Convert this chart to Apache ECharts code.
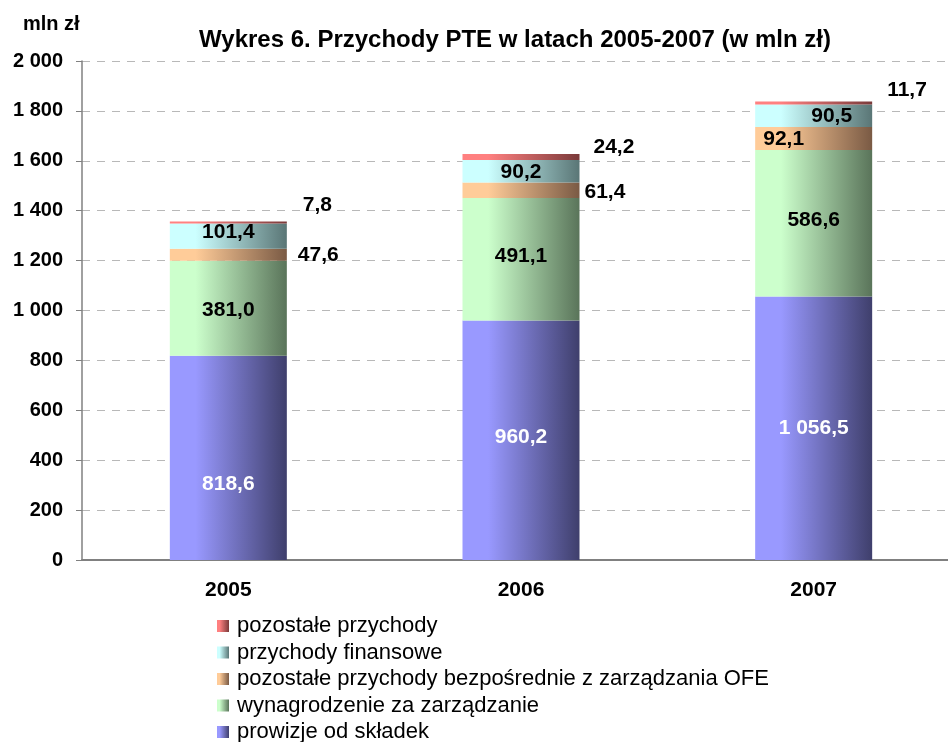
<!DOCTYPE html>
<html>
<head>
<meta charset="utf-8">
<script src="https://cdn.jsdelivr.net/npm/echarts@6/dist/echarts.min.js"></script>
<style>html,body{margin:0;padding:0;background:#fff}#c{width:948px;height:742px}</style>
</head>
<body>
<div id="c"></div>
<script>
const years = ['2005', '2006', '2007'];
const prowizje = [818.6, 960.2, 1056.5];
const wynagrodzenie = [381.0, 491.1, 586.6];
const bezposrednie = [47.6, 61.4, 92.1];
const finansowe = [101.4, 90.2, 90.5];
const pozostale = [7.8, 24.2, 11.7];
const seriesNames = ['prowizje od składek', 'wynagrodzenie za zarządzanie', 'pozostałe przychody bezpośrednie z zarządzania OFE', 'przychody finansowe', 'pozostałe przychody'];
const yTicks = [0, 200, 400, 600, 800, 1000, 1200, 1400, 1600, 1800, 2000];

const FONT = '"Liberation Sans", Arial, sans-serif';
function fmt(v) {
  const parts = v.toFixed(1).split('.');
  const intPart = parts[0].replace(/\B(?=(\d{3})+(?!\d))/g, ' ');
  return intPart + ',' + parts[1];
}
function grad(light, dark) {
  return new echarts.graphic.LinearGradient(0, 0, 1, 0, [
    { offset: 0, color: light }, { offset: 0.22, color: light }, { offset: 1, color: dark }
  ]);
}
const colors = [
  grad('#9999ff', '#3f3f6c'),
  grad('#ccffcc', '#5a745a'),
  grad('#ffcc99', '#7a5a44'),
  grad('#ccffff', '#5a7676'),
  grad('#ff8080', '#7a3a3a')
];
// label placement per series / year
const labelCfg = [
  [{ p: 'inside', o: [0, 26], c: '#fff' }, { p: 'inside', o: [0, -3], c: '#fff' }, { p: 'inside', o: [0, 0], c: '#fff' }],
  [{ p: 'inside', o: [0, 2] }, { p: 'inside', o: [0, -3] }, { p: 'inside', o: [0, -3] }],
  [{ p: 'right', d: 11, o: [0, 0] }, { p: 'right', d: 5, o: [0, 2] }, { p: 'inside', o: [-30, 1] }],
  [{ p: 'inside', o: [0, -4] }, { p: 'inside', o: [0, 1] }, { p: 'inside', o: [18, 0] }],
  [{ p: 'right', d: 16, o: [0, -17] }, { p: 'right', d: 14, o: [0, -10] }, { p: 'right', d: 15, o: [0, -13] }]
];
const values = [prowizje, wynagrodzenie, bezposrednie, finansowe, pozostale];

const series = values.map((arr, si) => ({
  name: seriesNames[si],
  type: 'bar',
  stack: 'total',
  barWidth: 117,
  itemStyle: { color: colors[si] },
  data: arr.map((v, i) => {
    const c = labelCfg[si][i];
    return {
      value: v,
      label: {
        show: true,
        position: c.p,
        distance: c.d || 5,
        offset: c.o,
        color: c.c || '#000',
        fontFamily: FONT,
        fontWeight: 'bold',
        fontSize: 21,
        formatter: p => fmt(p.value)
      }
    };
  })
}));

const chart = echarts.init(document.getElementById('c'), null, { renderer: 'canvas' });
chart.setOption({
  animation: false,
  backgroundColor: '#fff',
  title: [
    { text: 'Wykres 6. Przychody PTE w latach 2005-2007 (w mln zł)', left: 510, textAlign: 'center', top: 23,
      textStyle: { fontFamily: FONT, fontWeight: 'bold', fontSize: 24, color: '#000' } },
    { text: 'mln zł', left: 18, top: 9,
      textStyle: { fontFamily: FONT, fontWeight: 'bold', fontSize: 20, color: '#000' } }
  ],
  legend: {
    orient: 'vertical', left: 217, top: 615, height: 140, padding: 0,
    itemWidth: 12, itemHeight: 12, itemGap: 4.5, icon: 'rect',
    data: seriesNames.slice().reverse(),
    textStyle: { fontFamily: FONT, fontSize: 22, color: '#000', padding: [0, 0, 0, 3] }
  },
  grid: { left: 82, width: 878, top: 61, height: 499, outerBoundsMode: 'none' },
  xAxis: {
    type: 'category', data: years,
    axisLine: { lineStyle: { color: '#808080', width: 2 } },
    axisTick: { show: false },
    axisLabel: { fontFamily: FONT, fontWeight: 'bold', fontSize: 21, color: '#000', margin: 20 }
  },
  yAxis: {
    type: 'value', min: 0, max: 2000, interval: 200,
    axisLine: { show: true, lineStyle: { color: '#808080', width: 1.5 } },
    axisTick: { show: true, length: 6, lineStyle: { color: '#808080' } },
    axisLabel: { fontFamily: FONT, fontWeight: 'bold', fontSize: 20, color: '#000', margin: 19,
      formatter: v => yTicks.includes(v) ? String(v).replace(/\B(?=(\d{3})+(?!\d))/g, ' ') : '' },
    splitLine: { lineStyle: { color: '#b8b8b8', type: [8, 7], width: 1 } }
  },
  series: series
});
</script>
</body>
</html>
